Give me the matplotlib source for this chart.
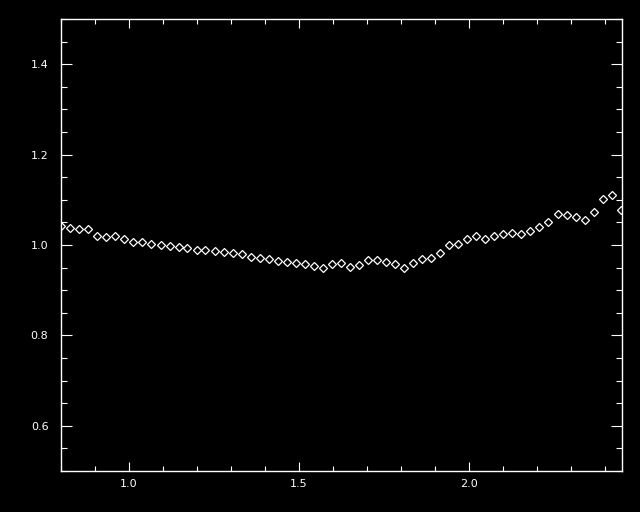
import numpy as np
import matplotlib
matplotlib.use('Agg')
import matplotlib.pyplot as plt
from matplotlib.ticker import MultipleLocator, FixedLocator

# valeurs
wave = [0.801, 0.826, 0.852, 0.879, 0.905, 0.932, 0.959, 0.986, 1.012, 1.037,
        1.065, 1.093, 1.120, 1.146, 1.172, 1.199, 1.225, 1.252, 1.278, 1.305,
        1.331, 1.359, 1.385, 1.412, 1.439, 1.464, 1.492, 1.518, 1.544, 1.571,
        1.598, 1.624, 1.651, 1.677, 1.704, 1.730, 1.757, 1.783, 1.810, 1.836,
        1.863, 1.889, 1.916, 1.942, 1.968, 1.995, 2.021, 2.047, 2.074, 2.100,
        2.127, 2.153, 2.180, 2.206, 2.233, 2.261, 2.287, 2.314, 2.340, 2.367,
        2.393, 2.420, 2.447]
ratio = [1.042, 1.037, 1.035, 1.035, 1.020, 1.017, 1.020, 1.013, 1.007, 1.006,
         1.002, 0.999, 0.998, 0.996, 0.993, 0.990, 0.988, 0.987, 0.985, 0.982,
         0.979, 0.973, 0.971, 0.968, 0.965, 0.962, 0.960, 0.957, 0.953, 0.950,
         0.957, 0.960, 0.951, 0.955, 0.966, 0.966, 0.962, 0.957, 0.948, 0.960,
         0.968, 0.971, 0.982, 0.999, 1.002, 1.013, 1.019, 1.013, 1.019, 1.024,
         1.027, 1.024, 1.032, 1.039, 1.050, 1.068, 1.066, 1.061, 1.055, 1.072,
         1.101, 1.110, 1.078]

xticks = [1.0, 1.5, 2.0]
yticks = [0.6, 0.8, 1.0, 1.2, 1.4]

fig = plt.figure(figsize=(6.4, 5.12), dpi=100, facecolor='black')
ax = fig.add_axes([0.0953, 0.0801, 0.8766, 0.8828], facecolor='black')

ax.plot(wave, ratio, linestyle='none', marker='D', markersize=4.3,
        markerfacecolor='none', markeredgecolor='white', markeredgewidth=0.9,
        clip_on=True)

ax.set_xlim(0.8, 2.45)
ax.set_ylim(0.5, 1.5)

ax.xaxis.set_major_locator(FixedLocator(xticks))
ax.xaxis.set_minor_locator(MultipleLocator(0.1))
ax.yaxis.set_major_locator(FixedLocator(yticks))
ax.yaxis.set_minor_locator(MultipleLocator(0.05))

for s in ax.spines.values():
    s.set_color('white')
    s.set_linewidth(1.0)

ax.tick_params(axis='both', which='both', direction='in', colors='white',
               top=True, right=True, width=0.8, labelsize=8)
ax.tick_params(axis='x', which='major', length=6.5, pad=6)
ax.tick_params(axis='x', which='minor', length=3.6)
ax.tick_params(axis='y', which='major', length=8, pad=9)
ax.tick_params(axis='y', which='minor', length=4.3)

fig.savefig('out.png', dpi=100, facecolor='black')
